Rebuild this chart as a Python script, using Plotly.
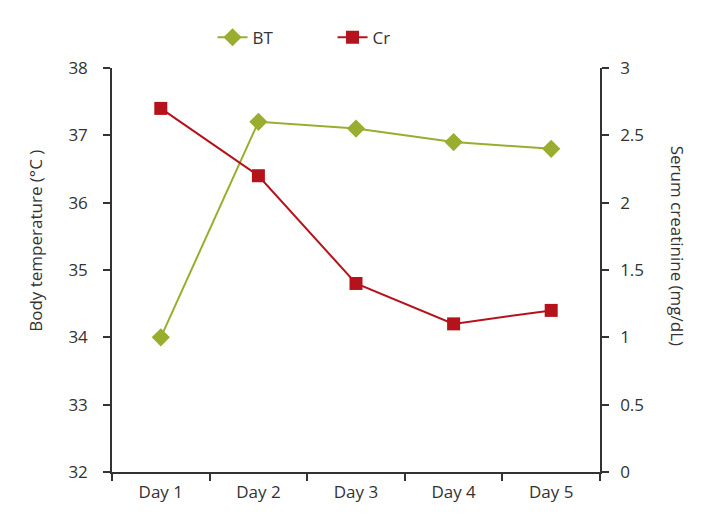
import plotly.graph_objects as go

days = ["Day 1", "Day 2", "Day 3", "Day 4", "Day 5"]
bt_values = [34.0, 37.2, 37.1, 36.9, 36.8]
cr_values = [2.7, 2.2, 1.4, 1.1, 1.2]

BT_COLOR = "#9bad2e"
CR_COLOR = "#b5121b"
AXIS_COLOR = "#333333"
FONT = "Open Sans, Noto Sans, sans-serif"

fig = go.Figure()
fig.add_trace(go.Scatter(
    x=days, y=bt_values, name="BT", mode="lines+markers",
    line=dict(color=BT_COLOR, width=2),
    marker=dict(symbol="diamond", size=14, color=BT_COLOR),
))
fig.add_trace(go.Scatter(
    x=days, y=cr_values, name="Cr", mode="lines+markers", yaxis="y2",
    line=dict(color=CR_COLOR, width=2),
    marker=dict(symbol="square", size=13, color=CR_COLOR),
))

axis_common = dict(
    showline=True, linecolor=AXIS_COLOR, linewidth=1.5,
    ticks="outside", tickcolor=AXIS_COLOR, tickwidth=1.5, ticklen=7,
    showgrid=False, zeroline=False,
    tickfont=dict(size=17, color="#333333", family=FONT),
)

title_font = dict(size=17, family=FONT, color="#333333")

fig.update_layout(
    width=694, height=523,
    template="plotly_white",
    plot_bgcolor="white", paper_bgcolor="white",
    font=dict(family=FONT, color="#333333"),
    # page body has an 8px margin, so the plot area lands at 112..600 x 68..472
    margin=dict(l=104, r=102, t=60, b=59),
    showlegend=True,
    legend=dict(
        orientation="h", x=0.206, xanchor="left", y=1.075, yanchor="middle",
        entrywidth=75,
        font=dict(size=17, color="#333333", family=FONT),
        bgcolor="rgba(0,0,0,0)",
    ),
    xaxis=dict(
        **axis_common,
        type="category", tickson="boundaries", range=[-0.5, 4.5],
        ticklabelstandoff=4,
    ),
    yaxis=dict(**axis_common, range=[32, 38], dtick=1, ticklabelstandoff=12),
    yaxis2=dict(
        **axis_common,
        overlaying="y", side="right", range=[0, 3], dtick=0.5,
        ticklabelstandoff=8,
    ),
    annotations=[
        dict(
            text="Body temperature (°C )", textangle=-90,
            xref="paper", yref="paper", x=-0.156, y=0.572,
            xanchor="center", yanchor="middle", showarrow=False,
            font=title_font,
        ),
        dict(
            text="Serum creatinine (mg/dL)", textangle=90,
            xref="paper", yref="paper", x=1.158, y=0.56,
            xanchor="center", yanchor="middle", showarrow=False,
            font=title_font,
        ),
    ],
)

fig.write_html("out.html")
